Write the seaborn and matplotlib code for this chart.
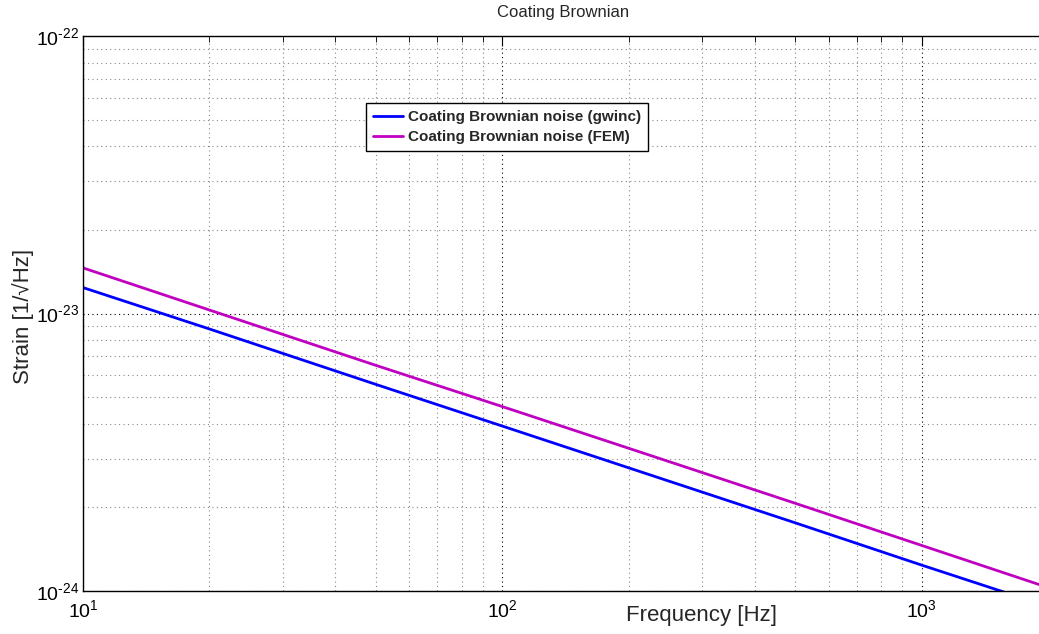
import numpy as np
import pandas as pd
import matplotlib
matplotlib.use("Agg")
import matplotlib.pyplot as plt
import matplotlib.ticker as mticker
import seaborn as sns

# ---- data ----
freq = [10, 20, 50, 100, 200, 500, 1000, 2000]
gwinc = [1.24e-23, 8.8e-24, 5.55e-24, 3.93e-24, 2.78e-24, 1.76e-24, 1.24e-24, 8.8e-25]
fem = [1.46e-23, 1.03e-23, 6.5e-24, 4.62e-24, 3.27e-24, 2.07e-24, 1.46e-24, 1.03e-24]
x_major = [10, 100, 1000]
y_major = [1e-24, 1e-23, 1e-22]
series_names = ["Coating Brownian noise (gwinc)", "Coating Brownian noise (FEM)"]
series_colors = ["#0000ff", "#c000c0"]
title = "Coating Brownian"
xlabel = "Frequency [Hz]"
ylabel = "Strain [1/\u221aHz]"

df = pd.DataFrame({
    "f": freq + freq,
    "v": gwinc + fem,
    "s": [series_names[0]] * len(freq) + [series_names[1]] * len(freq),
})

sns.set_style("white")
plt.rcParams["font.family"] = ["Liberation Sans", "DejaVu Sans"]
plt.rcParams["mathtext.fontset"] = "custom"
plt.rcParams["mathtext.rm"] = "Liberation Sans"
plt.rcParams["mathtext.it"] = "Liberation Sans"
plt.rcParams["mathtext.default"] = "regular"

fig = plt.figure(figsize=(10.39, 6.34), dpi=100)
ax = fig.add_axes([83 / 1039, 43 / 634, 964.8 / 1039, 555 / 634])

sns.lineplot(data=df, x="f", y="v", hue="s", palette=series_colors,
             hue_order=series_names, linewidth=2, ax=ax)

ax.set_xscale("log")
ax.set_yscale("log")
ax.set_xlim(10, 2000)
ax.set_ylim(1e-24, 1e-22)


def pow_fmt(v, pos):
    e = int(round(np.log10(v)))
    return r"$\mathregular{10}^{\text{" + str(e) + "}}$"


ax.xaxis.set_major_locator(mticker.FixedLocator(x_major))
ax.yaxis.set_major_locator(mticker.FixedLocator(y_major))
ax.xaxis.set_minor_locator(mticker.LogLocator(base=10, subs=np.arange(2, 10), numticks=20))
ax.yaxis.set_minor_locator(mticker.LogLocator(base=10, subs=np.arange(2, 10), numticks=20))
ax.xaxis.set_major_formatter(mticker.FuncFormatter(pow_fmt))
ax.yaxis.set_major_formatter(mticker.FuncFormatter(pow_fmt))
ax.xaxis.set_minor_formatter(mticker.NullFormatter())
ax.yaxis.set_minor_formatter(mticker.NullFormatter())

ax.grid(True, which="major", color="black", linestyle=(0, (1, 3)), linewidth=0.8)
ax.grid(True, which="minor", color="#888888", linestyle=(0, (1, 3)), linewidth=0.8)

ax.tick_params(which="both", direction="in", top=True, right=True, colors="black")
ax.tick_params(which="major", length=7, width=0.8, labelsize=14)
ax.tick_params(axis="x", which="major", pad=6)
ax.tick_params(axis="y", which="major", pad=3)
ax.tick_params(which="minor", length=4, width=0.6)

for sp in ax.spines.values():
    sp.set_color("black")
    sp.set_linewidth(1.0)

ax.set_xlabel("")
ax.set_ylabel("")
fig.text(701 / 1039, 1 - 616 / 634, xlabel, fontsize=16, ha="center", va="center")
fig.text(23 / 1039, 1 - 316 / 634, ylabel, fontsize=16, ha="center", va="center",
         rotation=90)
fig.text(563 / 1039, 1 - 13 / 634, title, fontsize=12, ha="center", va="center")

leg = ax.legend(loc="upper left", bbox_to_anchor=(366 / 1039, 1 - 103 / 634),
                bbox_transform=fig.transFigure, borderaxespad=0, frameon=True,
                fancybox=False, edgecolor="black", framealpha=1,
                prop={"size": 11, "weight": "bold"}, handlelength=2.0,
                handletextpad=0.3, borderpad=0.45, labelspacing=0.4)
leg.get_frame().set_linewidth(1.0)
leg.set_title(None)

fig.savefig("out.png", dpi=100)
